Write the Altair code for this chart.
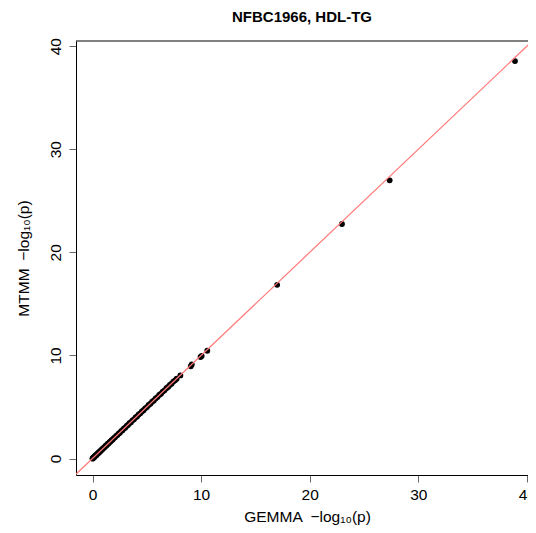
import altair as alt
import pandas as pd

# -log10(p) values: GEMMA (x) vs MTMM (y)
gemma = [0.00, 0.02, 0.05, 0.08, 0.12, 0.15, 0.19, 0.23, 0.27, 0.31, 0.36, 0.41,
         0.46, 0.52, 0.58, 0.64, 0.70, 0.77, 0.84, 0.91, 0.98, 1.06, 1.14, 1.22,
         1.30, 1.39, 1.48, 1.57, 1.66, 1.76, 1.86, 1.96, 2.07, 2.18, 2.29, 2.40,
         2.52, 2.64, 2.76, 2.88, 3.01, 3.14, 3.27, 3.40, 3.54, 3.68, 3.82, 3.96,
         4.10, 4.25, 4.40, 4.55, 4.70, 4.85, 5.01, 5.17, 5.33, 5.49, 5.65, 5.81,
         5.98, 6.14, 6.31, 6.47, 6.63, 6.80, 6.96, 7.12, 7.28, 7.44, 7.60, 7.75,
         8.09, 9.05, 9.14, 9.95, 10.05, 10.57, 17.00, 22.97, 27.36, 38.90]
mtmm = [0.01, -0.01, 0.06, 0.07, 0.14, 0.13, 0.21, 0.22, 0.29, 0.30, 0.35, 0.43,
        0.45, 0.54, 0.57, 0.66, 0.69, 0.79, 0.83, 0.93, 0.97, 1.08, 1.12, 1.24,
        1.29, 1.41, 1.46, 1.59, 1.65, 1.78, 1.84, 1.98, 2.05, 2.20, 2.27, 2.42,
        2.50, 2.66, 2.74, 2.90, 2.99, 3.16, 3.25, 3.42, 3.52, 3.70, 3.80, 3.98,
        4.08, 4.27, 4.38, 4.57, 4.68, 4.87, 4.99, 5.19, 5.31, 5.51, 5.63, 5.83,
        5.96, 6.16, 6.29, 6.49, 6.61, 6.82, 6.94, 7.14, 7.26, 7.46, 7.58, 7.74,
        8.06, 8.95, 9.12, 9.85, 9.95, 10.45, 16.85, 22.75, 26.98, 38.55]

# identity reference line endpoints (y = x)
ref_lo = [-2.0]
ref_hi = [42.0]

ticks = [0, 10, 20, 30, 40]

W, H = 452, 434
xdom = [-1.52, 40.1]
ydom = [-1.6, 40.5]
FONT = "Liberation Sans"

pts = pd.DataFrame({"gemma": gemma, "mtmm": mtmm})
ref = pd.DataFrame({"x": ref_lo, "y": ref_lo, "x2": ref_hi, "y2": ref_hi})

xscale = alt.Scale(domain=xdom, nice=False, zero=False)
yscale = alt.Scale(domain=ydom, nice=False, zero=False)

xaxis = alt.Axis(values=ticks, grid=False, domainColor="black", domainWidth=1,
                 tickColor="#666", tickSize=7, labelFont=FONT, labelFontSize=15.5,
                 labelColor="black", labelPadding=17, labelBaseline="alphabetic",
                 title="GEMMA\u2002\u2212log\u2081\u2080(p)", titleFont=FONT,
                 titleFontSize=15.5, titleFontWeight="normal", titleColor="black",
                 titleBaseline="alphabetic", titleX=231, titleY=46)
yaxis = alt.Axis(values=ticks, grid=False, domainColor="black", domainWidth=1,
                 tickColor="#666", tickSize=7, labelFont=FONT, labelFontSize=15.5,
                 labelColor="black", labelAngle=270, labelAlign="center",
                 labelBaseline="alphabetic", labelPadding=9,
                 title="MTMM\u2002\u2212log\u2081\u2080(p)", titleFont=FONT,
                 titleFontSize=15.5, titleFontWeight="normal", titleColor="black",
                 titleAngle=270, titleBaseline="alphabetic", titleX=-47.7, titleY=217)

points = alt.Chart(pts).mark_circle(size=34, color="black", opacity=1).encode(
    x=alt.X("gemma:Q", scale=xscale, axis=xaxis),
    y=alt.Y("mtmm:Q", scale=yscale, axis=yaxis),
)

line = alt.Chart(ref).mark_rule(color="#ff7777", strokeWidth=1.2, clip=True).encode(
    x=alt.X("x:Q", scale=xscale), y=alt.Y("y:Q", scale=yscale),
    x2="x2:Q", y2="y2:Q",
)

top = alt.Chart(ref).mark_rule(color="black", strokeWidth=1).encode(
    x=alt.value(0), x2=alt.value(W), y=alt.value(0)
)

chart = alt.layer(points, line, top).properties(
    width=W, height=H,
    title=alt.TitleParams("NFBC1966, HDL-TG", font=FONT, fontSize=15, fontWeight="bold",
                          color="black", anchor="middle", baseline="alphabetic", offset=1),
    autosize=alt.AutoSizeParams(type="none"),
    padding={"left": 68, "top": 33, "right": 0, "bottom": 50},
).configure_view(stroke=None)

chart.save("out.html", embed_options={"renderer": "svg", "actions": False})
